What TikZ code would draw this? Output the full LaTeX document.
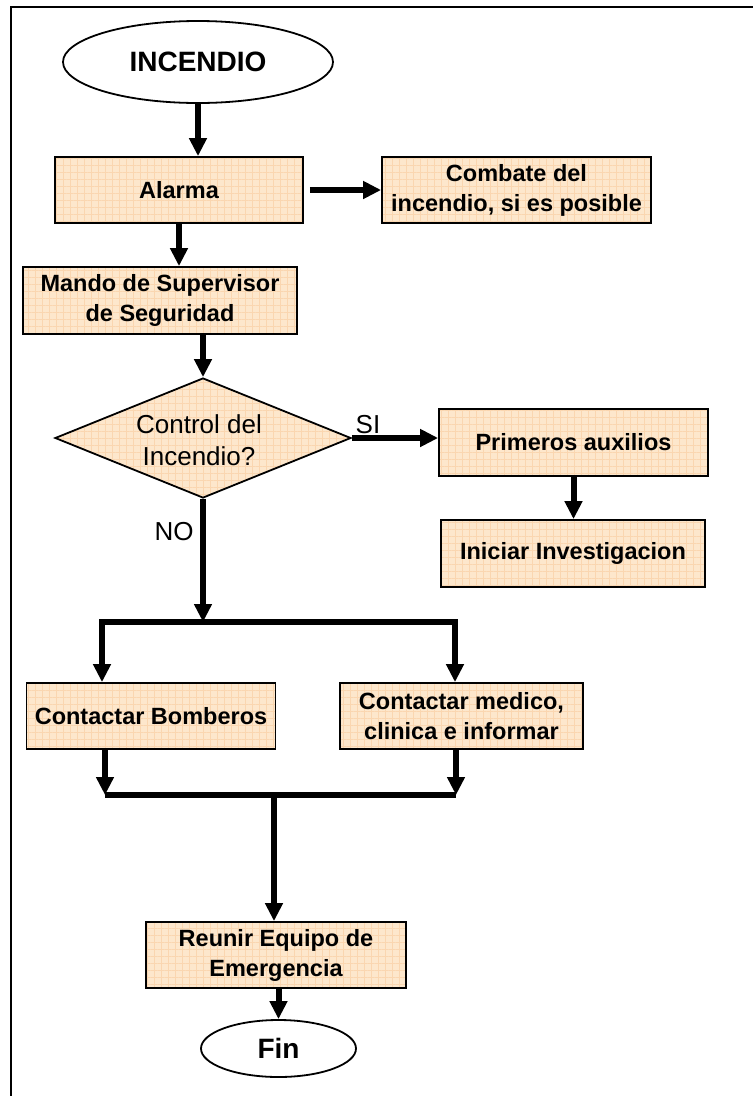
\documentclass[tikz,border=0pt]{standalone}
\usepackage{fontspec}
\setmainfont{Liberation Sans}
\usetikzlibrary{arrows.meta,shapes.geometric,patterns.meta}
\definecolor{peach}{RGB}{253,231,204}
\definecolor{gridc}{RGB}{250,214,176}
\begin{document}
\begin{tikzpicture}[x=1pt,y=-1pt,
  boxfill/.style={preaction={fill=peach},preaction={pattern={Hatch[distance=7pt,angle=0,line width=0.6pt]},pattern color=gridc}},
  proc/.style={boxfill,draw,line width=1.8pt,rectangle,inner sep=0pt,align=center,font=\bfseries\fontsize{23.5}{30}\selectfont},
  term/.style={draw,line width=1.8pt,ellipse,inner sep=0pt,fill=white,font=\bfseries\fontsize{28}{34}\selectfont},
  conn/.style={line width=6pt,-{Triangle[width=17pt,length=18pt]},line join=miter},
  bar/.style={line width=6pt,line join=miter},
  lbl/.style={font=\fontsize{26}{32}\selectfont,inner sep=0pt}]
\useasboundingbox (0,0) rectangle (753,1096);
\draw[line width=2pt] (11,1096) -- (11,7) -- (753,7);
% nodes
\node[term, minimum width=270pt, minimum height=82pt] (inc) at (198,62) {INCENDIO};
\node[proc, minimum width=248pt, minimum height=66pt] (alarma) at (179,190) {Alarma};
\node[proc, minimum width=269pt, minimum height=66pt] (comb) at (516.5,190) {Combate del\\incendio, si es posible};
\node[proc, minimum width=274pt, minimum height=67pt] (mando) at (160,300.5) {Mando de Supervisor\\de Seguridad};
\node[diamond, boxfill, draw, line width=1.8pt, minimum width=296pt, minimum height=120pt, inner sep=0pt] (dia) at (203,438) {};
\node[lbl, align=center] (diat) at (199,440) {Control del\\Incendio?};
\node[proc, minimum width=269pt, minimum height=67pt] (prim) at (573.5,442.5) {Primeros auxilios};
\node[proc, minimum width=264pt, minimum height=67pt] (inic) at (573,553.5) {Iniciar Investigacion};
\node[lbl] (si) at (368,425) {SI};
\node[lbl] (no) at (174,532) {NO};
\coordinate (tl) at (102,622);
\coordinate (tr) at (455,622);
\node[proc, minimum width=249pt, minimum height=66pt] (bomb) at (151,716) {Contactar Bomberos};
\node[proc, minimum width=243pt, minimum height=66pt] (med) at (461.5,716) {Contactar medico,\\clinica e informar};
\coordinate (bl) at (105,795);
\coordinate (br) at (456,795);
\coordinate (bm) at (274,795);
\node[proc, minimum width=260pt, minimum height=66pt] (reun) at (276,955) {Reunir Equipo de\\Emergencia};
\node[term, minimum width=155pt, minimum height=57pt] (fin) at (278.5,1048.5) {Fin};
% connectors
\draw[conn] (inc.south) -- (inc.south |- alarma.north);
\draw[conn, shorten <=6pt] (alarma.east) -- (comb.west);
\draw[conn] (alarma.south) -- (alarma.south |- mando.north);
\draw[conn] (dia.north |- mando.south) -- (dia.north);
\draw[conn] (dia.east) -- (dia.east -| prim.west);
\draw[conn] (prim.south) -- (prim.south |- inic.north);
\draw[conn] (dia.south) -- (dia.south |- tl);
\draw[bar, {Triangle[width=17pt,length=18pt]}-{Triangle[width=17pt,length=18pt]}] (tl |- bomb.north) -- (tl) -- (tr) -- (tr |- med.north);
\draw[conn] (bl |- bomb.south) -- (bl);
\draw[conn] (br |- med.south) -- (br);
\draw[bar] (bl) -- (br);
\draw[conn] (bm) -- (bm |- reun.north);
\draw[conn] (fin.north |- reun.south) -- (fin.north);
\end{tikzpicture}
\end{document}
